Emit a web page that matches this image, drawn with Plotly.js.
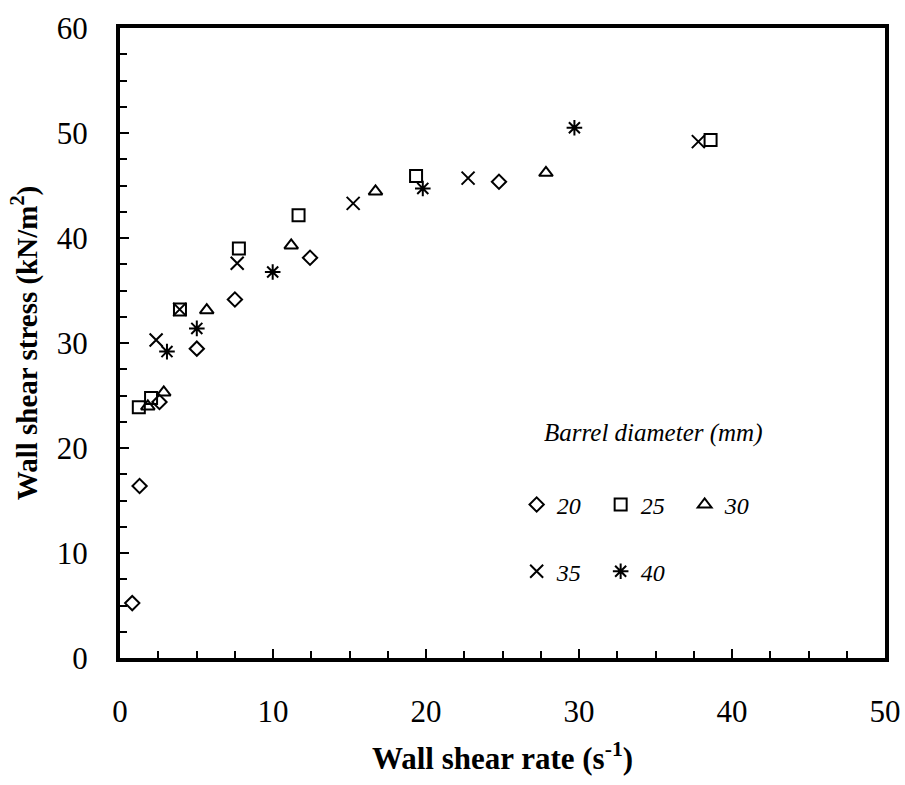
<!DOCTYPE html>
<html>
<head>
<meta charset="utf-8">
<script src="https://cdn.plot.ly/plotly-3.0.1.min.js"></script>
<style>html,body{margin:0;padding:0;background:#fff;overflow:hidden;}#chart{width:905px;height:785px;}</style>
</head>
<body>
<div id="chart"></div>
<script>
// Barrel diameter series (mm)
const seriesNames = ['20', '25', '30', '35', '40'];

// Wall shear rate (s^-1) and wall shear stress (kN/m^2)
const x20 = [0.80, 1.28, 2.58, 5.02, 7.51, 12.42, 24.77];
const y20 = [5.23, 16.38, 24.38, 29.46, 34.14, 38.12, 45.36];

const x25 = [1.23, 2.03, 3.92, 7.77, 11.67, 19.35, 38.6];
const y25 = [23.87, 24.76, 33.19, 39.0, 42.16, 45.9, 49.34];

const x30 = [1.82, 2.86, 5.67, 11.19, 16.7, 27.84];
const y30 = [23.96, 25.29, 33.13, 39.29, 44.44, 46.21];

const x35 = [2.36, 3.9, 7.66, 15.24, 22.75, 37.8];
const y35 = [30.28, 33.2, 37.6, 43.3, 45.7, 49.18];

const x40 = [3.07, 5.02, 9.98, 19.79, 29.7];
const y40 = [29.18, 31.39, 36.76, 44.72, 50.5];

const xs = [x20, x25, x30, x35, x40];
const ys = [y20, y25, y30, y35, y40];
const symbols = ['diamond-open', 'square-open', 'triangle-up-open', 'x-thin-open', 'asterisk-open'];
const sizes = [11, 12, 12, 13, 13];
const legendIds = ['legend', 'legend', 'legend', 'legend2', 'legend2'];

const traces = seriesNames.map((n, i) => ({
  type: 'scatter',
  mode: 'markers',
  name: n,
  x: xs[i],
  y: ys[i],
  legend: legendIds[i],
  marker: {
    symbol: symbols[i],
    size: sizes[i],
    color: 'black',
    line: {color: 'black', width: 2}
  },
  cliponaxis: false
}));

const serif = 'Liberation Serif';

const layout = {
  width: 905,
  height: 785,
  margin: {l: 120, r: 20, t: 28, b: 127, autoexpand: false},
  paper_bgcolor: 'white',
  plot_bgcolor: 'white',
  font: {family: serif, color: 'black'},
  showlegend: true,
  xaxis: {
    range: [0, 50],
    dtick: 10,
    tick0: 0,
    ticks: 'inside',
    ticklen: 9,
    tickwidth: 2,
    tickcolor: 'black',
    showline: true,
    linewidth: 4,
    linecolor: 'black',
    mirror: true,
    showgrid: false,
    zeroline: false,
    ticklabelstandoff: 23,
    tickfont: {family: serif, size: 31, color: 'black'},
    minor: {dtick: 2.5, ticks: 'inside', ticklen: 7, tickwidth: 2, tickcolor: 'black', showgrid: false},
    title: {text: '<b>Wall shear rate (s<sup>-1</sup>)</b>', font: {family: serif, size: 31, color: 'black'}, standoff: 20},
    automargin: false
  },
  yaxis: {
    range: [0, 60],
    dtick: 10,
    tick0: 0,
    ticks: 'inside',
    ticklen: 9,
    tickwidth: 2,
    tickcolor: 'black',
    showline: true,
    linewidth: 4,
    linecolor: 'black',
    mirror: true,
    showgrid: false,
    zeroline: false,
    ticklabelstandoff: 22,
    tickfont: {family: serif, size: 31, color: 'black'},
    minor: {dtick: 2.5, ticks: 'inside', ticklen: 7, tickwidth: 2, tickcolor: 'black', showgrid: false},
    title: {text: '<b>Wall shear stress (kN/m<sup>2</sup>)</b>', font: {family: serif, size: 29, color: 'black'}, standoff: 12},
    automargin: false
  },
  legend: {
    orientation: 'h',
    x: 0.5185, xanchor: 'left',
    y: 0.243, yanchor: 'middle',
    bgcolor: 'rgba(0,0,0,0)',
    font: {family: serif, size: 24, color: 'black', style: 'italic'},
    entrywidth: 39, entrywidthmode: 'pixels',
    itemclick: false, itemdoubleclick: false
  },
  legend2: {
    orientation: 'h',
    x: 0.5185, xanchor: 'left',
    y: 0.137, yanchor: 'middle',
    bgcolor: 'rgba(0,0,0,0)',
    font: {family: serif, size: 24, color: 'black', style: 'italic'},
    entrywidth: 39, entrywidthmode: 'pixels',
    itemclick: false, itemdoubleclick: false
  },
  annotations: [{
    text: 'Barrel diameter (mm)',
    xref: 'paper', yref: 'paper',
    x: 0.697, y: 0.357,
    xanchor: 'center', yanchor: 'middle',
    showarrow: false,
    font: {family: serif, size: 25, color: 'black', style: 'italic'}
  }]
};

Plotly.newPlot('chart', traces, layout, {displayModeBar: false, staticPlot: true});
</script>
</body>
</html>
